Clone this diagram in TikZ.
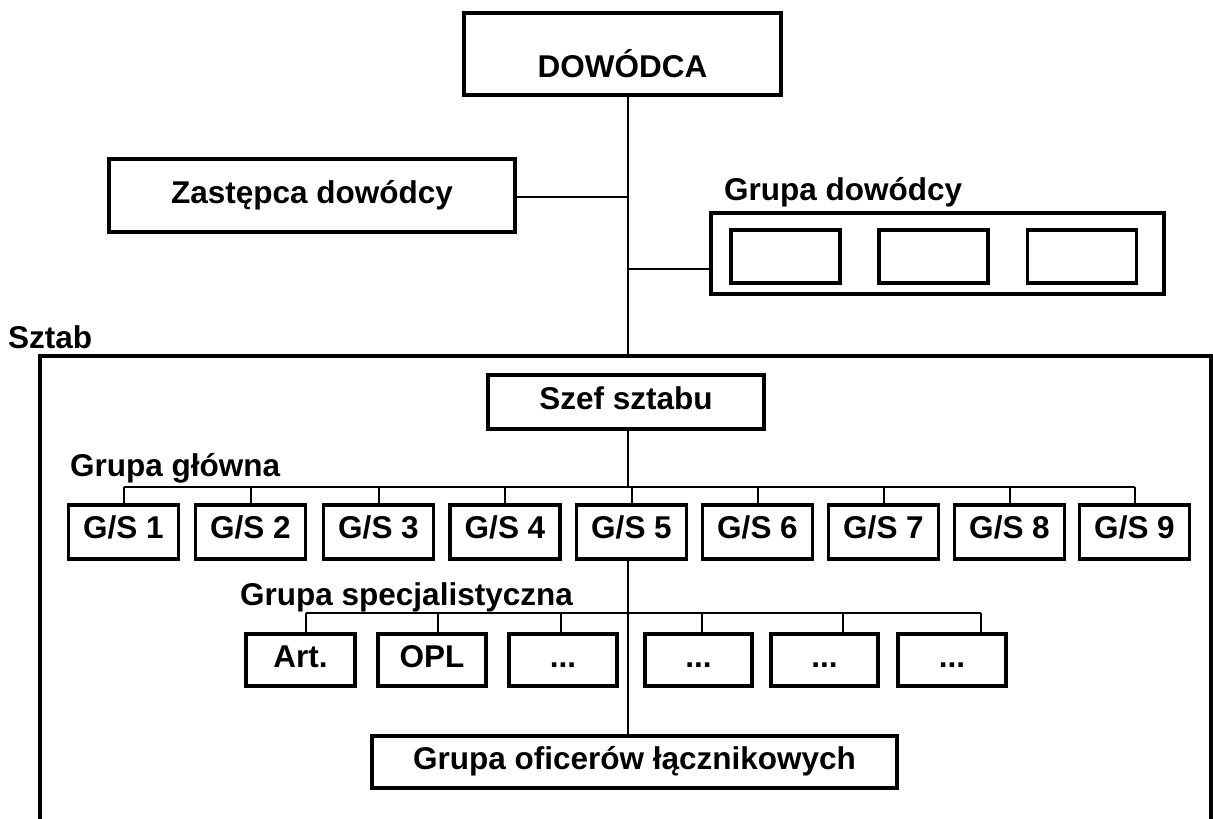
\documentclass[tikz,border=0pt]{standalone}
\usepackage{fontspec}
\setmainfont{Liberation Sans}
\begin{document}
\begin{tikzpicture}[x=1pt,y=-1pt,
  box/.style={draw,line width=3.5pt,rectangle,inner sep=0pt,font=\fontsize{31.5}{36}\selectfont\bfseries},
  up/.style={text height=21.7pt,text depth=#1},
  lbl/.style={anchor=west,inner sep=0pt,font=\fontsize{31.5}{36}\selectfont\bfseries},
  conn/.style={line width=2pt}]
\useasboundingbox (0,0) rectangle (1213,819);
\coordinate (t) at (628,0);
% top level
\node[box,text height=47.6pt,text depth=0pt,minimum width=317pt,minimum height=82pt] (dow) at (622.5,54) {DOWÓDCA};
\node[box,up=5pt,minimum width=406pt,minimum height=73pt] (zas) at (312,195.5) {Zastępca dowódcy};
\node[lbl] (gdl) at (724,192) {Grupa dowódcy};
\node[box,minimum width=453pt,minimum height=81pt] (gd) at (937.5,253.5) {};
\node[box,minimum width=109pt,minimum height=53pt] (gd1) at (785.5,256.5) {};
\node[box,minimum width=109pt,minimum height=53pt] (gd2) at (933.5,256.5) {};
\node[box,minimum width=109pt,minimum height=53pt] (gd3) at (1082,256.5) {};
% staff
\node[lbl] (sztl) at (8,337) {Sztab};
\draw[line width=4pt] (1211,830) -- (1211,356) coordinate (sztr) -- (40,356) coordinate (sztl2) -- (40,830);
\node[box,up=6pt,minimum width=276pt,minimum height=54pt] (szef) at (626,402) {Szef sztabu};
\node[lbl] (ggl) at (70,468) {Grupa główna};
\foreach \i/\x in {1/123.5,2/250.5,3/378.5,4/505,5/631.5,6/757.5,7/883.5,8/1009.5,9/1134.5}{
  \node[box,up=9pt,minimum width=110pt,minimum height=54pt] (gs\i) at (\x,532) {G/S \i};
}
\node[lbl] (gsl) at (240,597) {Grupa specjalistyczna};
\node[box,up=6pt,minimum width=109pt,minimum height=52pt] (sp1) at (300.5,660) {Art.};
\node[box,up=6pt,minimum width=108pt,minimum height=52pt] (sp2) at (432,660) {OPL};
\node[box,up=6pt,minimum width=108pt,minimum height=52pt] (sp3) at (563,660) {...};
\node[box,up=6pt,minimum width=107pt,minimum height=52pt] (sp4) at (698.5,660) {...};
\node[box,up=6pt,minimum width=107pt,minimum height=52pt] (sp5) at (824.5,660) {...};
\node[box,up=6pt,minimum width=108pt,minimum height=52pt] (sp6) at (952,660) {...};
\node[box,up=6pt,minimum width=525pt,minimum height=52pt] (ofc) at (634.5,762) {Grupa oficerów łącznikowych};
% connectors
\coordinate (trunkbot) at (628,356);
\draw[conn] (dow.south -| t) -- (trunkbot);
\draw[conn] (zas.east |- 0,197) -- (t |- 0,197);
\draw[conn] (gd.west |- 0,269) -- (t |- 0,269);
\draw[conn] (szef.south -| t) -- (t |- 0,487);
\coordinate (bus1) at (0,487);
\draw[conn] (gs1.north |- bus1) -- (gs9.north |- bus1);
\foreach \i in {1,...,9}{ \draw[conn] (gs\i.north |- bus1) -- (gs\i.north); }
\draw[conn] (gs5.south -| t) -- (ofc.north -| t);
\coordinate (bus2) at (0,613);
\foreach \i/\d in {1/5,2/6,3/-2,4/3,5/18,6/29}{
  \draw[conn] ([xshift=\d pt]sp\i.north) -- ([xshift=\d pt]sp\i.north |- bus2);
}
\draw[conn] ([xshift=5pt]sp1.north |- bus2) -- ([xshift=29pt]sp6.north |- bus2);
\end{tikzpicture}
\end{document}
